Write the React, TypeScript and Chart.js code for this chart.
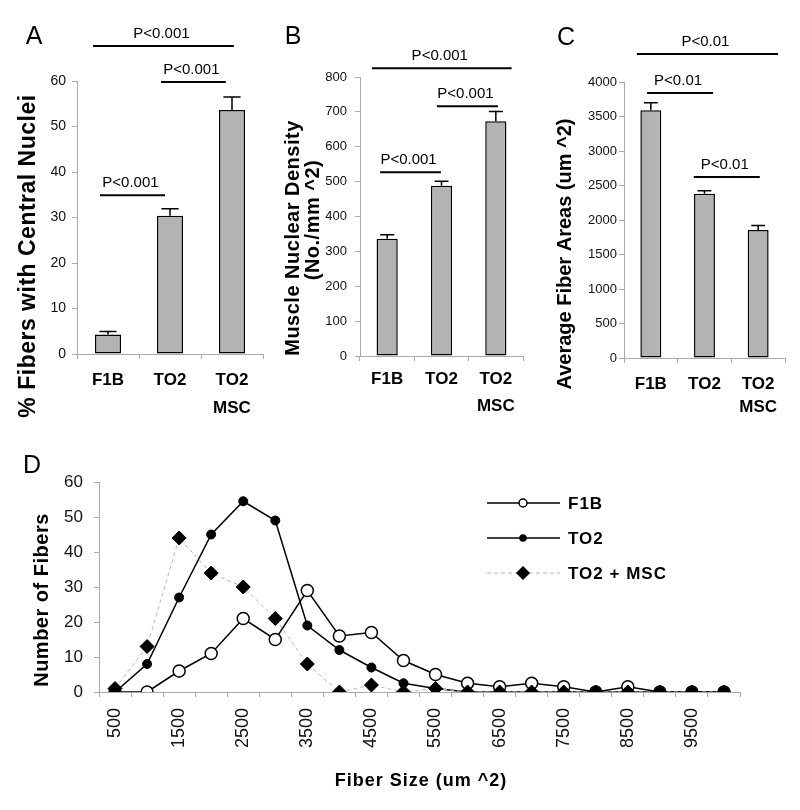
import React, { useEffect, useRef } from 'react';
import { Chart, registerables } from 'chart.js';

Chart.register(...registerables);

const FONT = '"Liberation Sans", Arial, Helvetica, sans-serif';
Chart.defaults.font.family = FONT;
Chart.defaults.color = '#000';

// ---------- Panels A, B, C (bar charts) ----------
const groups = [['F1B'], ['TO2'], ['TO2', 'MSC']];

const centralNuclei = [4.3, 30.4, 53.6];
const centralNucleiErr = [0.65, 1.5, 2.9];
const centralNucleiSig = [
  { from: -0.24, to: 2.03, at: 67.7, label: 'P<0.001' },
  { from: 0.855, to: 1.9, at: 59.8, label: 'P<0.001' },
  { from: -0.13, to: 0.92, at: 34.9, label: 'P<0.001' },
];

const nuclearDensity = [336, 488, 673];
const nuclearDensityErr = [12, 13, 28];
const nuclearDensitySig = [
  { from: -0.28, to: 2.29, at: 825, label: 'P<0.001' },
  { from: 0.915, to: 2.04, at: 716, label: 'P<0.001' },
  { from: -0.13, to: 0.99, at: 527, label: 'P<0.001' },
];

const fiberArea = [3590, 2380, 1855];
const fiberAreaErr = [110, 45, 65];
const fiberAreaSig = [
  { from: -0.26, to: 2.37, at: 4406, label: 'P<0.01' },
  { from: -0.07, to: 1.16, at: 3841, label: 'P<0.01' },
  { from: 0.8, to: 2.03, at: 2623, label: 'P<0.01' },
];

// ---------- Panel D (line chart) ----------
const fiberSizes = [
  '500', '1000', '1500', '2000', '2500', '3000', '3500', '4000', '4500', '5000',
  '5500', '6000', '6500', '7000', '7500', '8000', '8500', '9000', '9500', '10000',
];
const f1bCounts = [0, 0, 6, 11, 21, 15, 29, 16, 17, 9, 5, 2.5, 1.5, 2.5, 1.5, 0, 1.5, 0, 0, 0];
const to2Counts = [0, 8, 27, 45, 54.5, 49, 19, 12, 7, 2.5, 1, 0, 0, 0, 0, 0, 0, 0, 0, 0];
const to2MscCounts = [1, 13, 44, 34, 30, 21, 8, 0, 2, 0, 1, 0, 0, 0, 0, 0, 0, 0, 0, 0];
const legendNames = ['F1B', 'TO2', 'TO2 + MSC'];

const AXIS = '#aaaaaa';

type Sig = { from: number; to: number; at: number; label: string };
type Txt = { text: string; x: number; y: number; size: number; bold?: boolean; rotate?: boolean; ls?: string };

function drawText(ctx: CanvasRenderingContext2D, t: Txt) {
  ctx.save();
  ctx.font = `${t.bold ? 'bold ' : ''}${t.size}px ${FONT}`;
  (ctx as any).letterSpacing = t.ls || '0px';
  ctx.fillStyle = '#000';
  ctx.textAlign = 'center';
  ctx.textBaseline = 'middle';
  ctx.translate(t.x, t.y);
  if (t.rotate) ctx.rotate(-Math.PI / 2);
  ctx.fillText(t.text, 0, 0);
  ctx.restore();
}

type BarProps = {
  pos: { left: number; top: number; width: number; height: number };
  pad: { left: number; right: number; top: number; bottom: number };
  values: number[];
  errors: number[];
  sig: Sig[];
  yMax: number;
  yStep: number;
  tickFont: number;
  tickPad: number;
  catLine: number;
  catPad: number;
  barPct: number;
  texts: Txt[];
};

function BarPanel(p: BarProps) {
  const ref = useRef<HTMLCanvasElement>(null);
  useEffect(() => {
    if (!ref.current) return;
    const decor = {
      id: 'decor',
      afterDatasetsDraw(chart: any) {
        const ctx: CanvasRenderingContext2D = chart.ctx;
        const xs = chart.scales.x;
        const ys = chart.scales.y;
        const meta = chart.getDatasetMeta(0);
        ctx.save();
        ctx.strokeStyle = '#000';
        ctx.lineWidth = 1.5;
        p.values.forEach((v, i) => {
          const el: any = meta.data[i];
          const yTop = ys.getPixelForValue(v + p.errors[i]);
          const cap = el.width * 0.33;
          ctx.beginPath();
          ctx.moveTo(el.x, el.y);
          ctx.lineTo(el.x, yTop);
          ctx.moveTo(el.x - cap, yTop);
          ctx.lineTo(el.x + cap, yTop);
          ctx.stroke();
        });
        ctx.lineWidth = 2;
        p.sig.forEach((s) => {
          const x0 = xs.getPixelForValue(s.from);
          const x1 = xs.getPixelForValue(s.to);
          const y = ys.getPixelForValue(s.at);
          ctx.beginPath();
          ctx.moveTo(x0, y);
          ctx.lineTo(x1, y);
          ctx.stroke();
          drawText(ctx, { text: s.label, x: (x0 + x1) / 2 - 2, y: y - 12.5, size: 15 });
        });
        ctx.restore();
      },
      afterDraw(chart: any) {
        p.texts.forEach((t) => drawText(chart.ctx, t));
      },
    };
    const chart = new Chart(ref.current, {
      type: 'bar',
      data: {
        labels: groups as any,
        datasets: [
          {
            data: p.values,
            backgroundColor: '#b3b3b3',
            borderColor: '#000',
            borderWidth: 1.5,
            borderSkipped: false,
            barPercentage: p.barPct,
            categoryPercentage: 1,
          } as any,
        ],
      },
      options: {
        animation: false,
        responsive: false,
        devicePixelRatio: 1,
        layout: { padding: p.pad },
        plugins: { legend: { display: false }, tooltip: { enabled: false } },
        scales: {
          x: {
            grid: { offset: true, drawOnChartArea: false, tickLength: 5, color: AXIS },
            border: { color: AXIS },
            ticks: {
              font: { size: 17, weight: 'bold', lineHeight: p.catLine / 17 },
              padding: p.catPad,
              color: '#000',
              maxRotation: 0,
              autoSkip: false,
            },
            afterFit: (s: any) => {
              s.height = 80;
            },
          } as any,
          y: {
            min: 0,
            max: p.yMax,
            ticks: {
              stepSize: p.yStep,
              font: { size: p.tickFont },
              padding: p.tickPad,
              color: '#111',
              callback: (v: any) => String(v),
            },
            grid: { drawOnChartArea: false, tickLength: 5, color: AXIS },
            border: { color: AXIS },
            afterFit: (s: any) => {
              s.width = 40;
            },
          } as any,
        },
      },
      plugins: [decor],
    });
    return () => chart.destroy();
  }, []);
  return (
    <canvas
      ref={ref}
      width={p.pos.width}
      height={p.pos.height}
      style={{ position: 'absolute', left: p.pos.left, top: p.pos.top, width: p.pos.width, height: p.pos.height }}
    />
  );
}

function LinePanel() {
  const ref = useRef<HTMLCanvasElement>(null);
  useEffect(() => {
    if (!ref.current) return;
    const decor = {
      id: 'decorD',
      afterDraw(chart: any) {
        const ctx: CanvasRenderingContext2D = chart.ctx;
        drawText(ctx, { text: 'D', x: 32, y: 26, size: 25 });
        drawText(ctx, { text: 'Number of Fibers', x: 42, y: 160, size: 20, bold: true, rotate: true, ls: '0.5px' });
        drawText(ctx, { text: 'Fiber Size (um ^2)', x: 421, y: 341, size: 18, bold: true, ls: '1px' });
        // legend
        const rows = [63, 98, 133];
        const ds = chart.data.datasets;
        const styles = [ds[2], ds[1], ds[0]];
        legendNames.forEach((name, i) => {
          const st: any = styles[i];
          const y = rows[i];
          ctx.save();
          ctx.strokeStyle = st.borderColor;
          ctx.lineWidth = st.borderWidth;
          ctx.setLineDash(st.borderDash || []);
          ctx.beginPath();
          ctx.moveTo(487, y);
          ctx.lineTo(560, y);
          ctx.stroke();
          ctx.setLineDash([]);
          ctx.fillStyle = st.pointBackgroundColor;
          ctx.strokeStyle = '#000';
          ctx.lineWidth = 1.5;
          ctx.beginPath();
          if (st.pointStyle === 'rectRot') {
            const r = 6;
            ctx.moveTo(523 - r, y);
            ctx.lineTo(523, y - r);
            ctx.lineTo(523 + r, y);
            ctx.lineTo(523, y + r);
            ctx.closePath();
          } else {
            ctx.arc(523, y, st.pointRadius > 5 ? 4 : 3, 0, Math.PI * 2);
          }
          ctx.fill();
          ctx.stroke();
          ctx.font = `bold 17px ${FONT}`;
          (ctx as any).letterSpacing = '1px';
          ctx.fillStyle = '#000';
          ctx.textAlign = 'left';
          ctx.textBaseline = 'middle';
          ctx.fillText(name, 568, y + 1);
          ctx.restore();
        });
      },
    };
    const chart = new Chart(ref.current, {
      type: 'line',
      data: {
        labels: fiberSizes,
        datasets: [
          {
            label: 'TO2 + MSC',
            data: to2MscCounts,
            borderColor: '#b8b8b8',
            borderWidth: 1,
            borderDash: [4, 3],
            pointStyle: 'rectRot',
            pointRadius: 7,
            pointBackgroundColor: '#000',
            pointBorderColor: '#000',
            pointBorderWidth: 1,
            tension: 0,
            order: 0,
          },
          {
            label: 'TO2',
            data: to2Counts,
            borderColor: '#000',
            borderWidth: 1.5,
            pointStyle: 'circle',
            pointRadius: 4.5,
            pointBackgroundColor: '#000',
            pointBorderColor: '#000',
            pointBorderWidth: 1,
            tension: 0,
            order: 1,
          },
          {
            label: 'F1B',
            data: f1bCounts,
            borderColor: '#000',
            borderWidth: 1.5,
            pointStyle: 'circle',
            pointRadius: 6,
            pointBackgroundColor: '#fff',
            pointBorderColor: '#000',
            pointBorderWidth: 1.5,
            tension: 0,
            order: 2,
          },
        ] as any,
      },
      options: {
        animation: false,
        responsive: false,
        devicePixelRatio: 1,
        layout: { padding: { left: 59, right: 60, top: 42, bottom: 58 } },
        plugins: { legend: { display: false }, tooltip: { enabled: false } },
        scales: {
          x: {
            offset: true,
            grid: { offset: true, drawOnChartArea: false, tickLength: 5, color: AXIS },
            border: { color: AXIS },
            ticks: {
              autoSkip: false,
              minRotation: 90,
              maxRotation: 90,
              font: { size: 18 },
              padding: 11,
              color: '#111',
              callback: (_v: any, i: number) => (i % 2 === 0 ? fiberSizes[i] : ''),
            },
            afterFit: (s: any) => {
              s.height = 60;
            },
          } as any,
          y: {
            min: 0,
            max: 60,
            ticks: { stepSize: 10, font: { size: 17 }, padding: 11, color: '#111' },
            grid: { drawOnChartArea: false, tickLength: 5, color: AXIS },
            border: { color: AXIS },
            afterFit: (s: any) => {
              s.width = 40;
            },
          } as any,
        },
      },
      plugins: [decor],
    });
    return () => chart.destroy();
  }, []);
  return (
    <canvas
      ref={ref}
      width={800}
      height={370}
      style={{ position: 'absolute', left: 0, top: 440, width: 800, height: 370 }}
    />
  );
}

export default function App() {
  return (
    <div style={{ position: 'absolute', left: 0, top: 0, width: 800, height: 810, background: '#fff', overflow: 'hidden' }}>
      <BarPanel
        pos={{ left: 0, top: 0, width: 265, height: 440 }}
        pad={{ left: 37, right: 2, top: 81, bottom: 6 }}
        values={centralNuclei}
        errors={centralNucleiErr}
        sig={centralNucleiSig}
        yMax={60}
        yStep={10}
        tickFont={14}
        tickPad={6}
        catLine={28}
        catPad={7}
        barPct={0.42}
        texts={[
          { text: 'A', x: 34, y: 37, size: 25 },
          { text: '% Fibers with Central Nuclei', x: 29, y: 256, size: 23, bold: true, rotate: true, ls: '0.5px' },
        ]}
      />
      <BarPanel
        pos={{ left: 265, top: 0, width: 265, height: 440 }}
        pad={{ left: 55, right: 7, top: 77, bottom: 4 }}
        values={nuclearDensity}
        errors={nuclearDensityErr}
        sig={nuclearDensitySig}
        yMax={800}
        yStep={100}
        tickFont={13}
        tickPad={8}
        catLine={27}
        catPad={5}
        barPct={0.39}
        texts={[
          { text: 'B', x: 28, y: 37, size: 25 },
          { text: 'Muscle Nuclear Density', x: 28, y: 238, size: 20, bold: true, rotate: true, ls: '0.5px' },
          { text: '(No./mm ^2)', x: 48, y: 220, size: 20, bold: true, rotate: true, ls: '0.5px' },
        ]}
      />
      <BarPanel
        pos={{ left: 530, top: 0, width: 270, height: 440 }}
        pad={{ left: 54, right: 15, top: 82, bottom: 2 }}
        values={fiberArea}
        errors={fiberAreaErr}
        sig={fiberAreaSig}
        yMax={4000}
        yStep={500}
        tickFont={13}
        tickPad={2}
        catLine={23}
        catPad={10}
        barPct={0.39}
        texts={[
          { text: 'C', x: 36, y: 38, size: 25 },
          { text: 'Average Fiber Areas (um ^2)', x: 35, y: 254, size: 20, bold: true, rotate: true },
        ]}
      />
      <LinePanel />
    </div>
  );
}
